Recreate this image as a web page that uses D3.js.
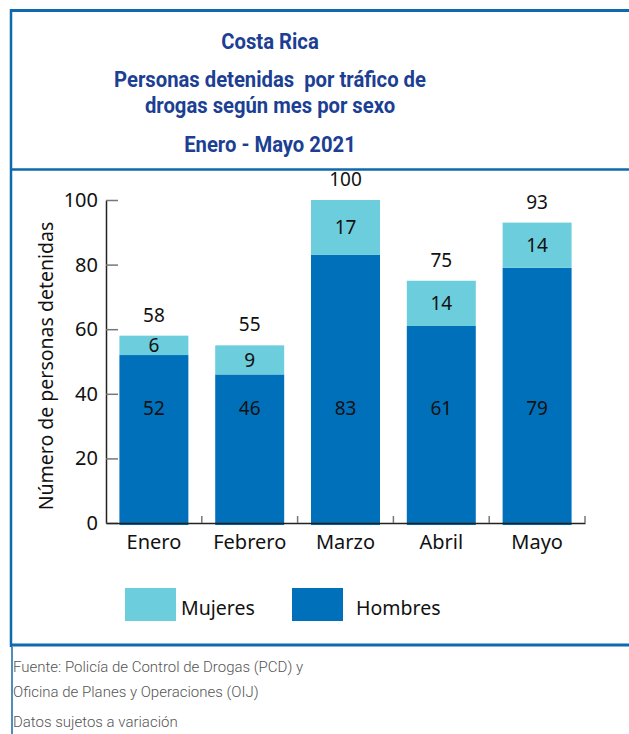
<!DOCTYPE html>
<html>
<head>
<meta charset="utf-8">
<script src="https://cdn.jsdelivr.net/npm/d3@7"></script>
<style>
  body { margin: 0; background: #fff; }
  svg { display: block; }
  text { white-space: pre; }
  .tick text { font-family: "Noto Sans", sans-serif; }
</style>
</head>
<body>
<div id="chart"></div>
<script>
var months = ["Enero", "Febrero", "Marzo", "Abril", "Mayo"];
var hombres = [52, 46, 83, 61, 79];
var mujeres = [6, 9, 17, 14, 14];
var totals = [58, 55, 100, 75, 93];
var yTicks = [0, 20, 40, 60, 80, 100];
var titleLines = ["Costa Rica", "Personas detenidas  por tráfico de", "drogas según mes por sexo", "Enero - Mayo 2021"];
var notes = ["Fuente: Policía de Control de Drogas (PCD) y", "Oficina de Planes y Operaciones (OIJ)", "Datos sujetos a variación"];

function init() {
    var w = 629, h = 734;
    var blue = "#0f69ad";
    var colMuj = "#6ccddc", colHom = "#0070bb";

    var svg = d3.select("#chart").append("svg").attr("width", w).attr("height", h);

    // frame lines
    svg.append("line").attr("x1", 10).attr("x2", w).attr("y1", 10.5).attr("y2", 10.5)
        .attr("stroke", blue).attr("stroke-width", 3);
    svg.append("line").attr("x1", 11).attr("x2", 11).attr("y1", 9).attr("y2", 647)
        .attr("stroke", blue).attr("stroke-width", 2.5);
    svg.append("line").attr("x1", 10).attr("x2", w).attr("y1", 169.5).attr("y2", 169.5)
        .attr("stroke", blue).attr("stroke-width", 2.5);
    svg.append("line").attr("x1", 10).attr("x2", w).attr("y1", 645).attr("y2", 645)
        .attr("stroke", blue).attr("stroke-width", 3);
    svg.append("line").attr("x1", 12).attr("x2", 12).attr("y1", 647).attr("y2", h)
        .attr("stroke", blue).attr("stroke-width", 1.5);

    // title (slightly condensed)
    var titleY = [49, 87, 113, 152];
    svg.append("g").attr("transform", "translate(270,0) scale(0.9,1)")
        .selectAll("text").data(titleLines).enter().append("text")
        .attr("x", 0).attr("y", (d, i) => titleY[i])
        .attr("text-anchor", "middle")
        .attr("font-family", "Roboto, sans-serif").attr("font-weight", 700)
        .attr("font-size", 22.5).attr("fill", "#1c3f94")
        .text(d => d);

    // scales
    var x = d3.scaleBand().domain(months).range([106, 585]).paddingInner(0.28).paddingOuter(0.14);
    var y = d3.scaleLinear().domain([0, 100]).range([523, 200]);

    var table = months.map((m, i) => ({ month: m, Hombres: hombres[i], Mujeres: mujeres[i] }));
    var stack = d3.stack().keys(["Hombres", "Mujeres"])(table);
    var color = { Hombres: colHom, Mujeres: colMuj };

    svg.append("g").selectAll("g").data(stack).enter().append("g")
        .attr("fill", d => color[d.key])
        .selectAll("rect").data(d => d).enter().append("rect")
        .attr("x", d => x(d.data.month))
        .attr("y", d => y(d[1]))
        .attr("width", x.bandwidth())
        .attr("height", d => y(d[0]) - y(d[1]) + (d[0] === 0 ? 2 : 0));

    // y axis
    var yAxis = d3.axisLeft(y).tickValues(yTicks).tickSize(0).tickPadding(8);
    var gy = svg.append("g").attr("transform", "translate(106,0)").call(yAxis);
    gy.select(".domain").attr("stroke", "#222").attr("stroke-width", 1.5);
    gy.selectAll(".tick text").attr("font-size", 20).attr("fill", "#111");
    gy.selectAll(".tick").append("line").attr("x1", 0).attr("x2", 12)
        .attr("stroke", "#777").attr("stroke-width", 1.5);

    // x axis
    var xAxis = d3.axisBottom(x).tickSize(0).tickPadding(12);
    var gx = svg.append("g").attr("transform", "translate(0,523)").call(xAxis);
    gx.select(".domain").attr("stroke", "#222").attr("stroke-width", 1.5);
    gx.selectAll(".tick text").attr("font-size", 20).attr("fill", "#111");
    var step = x.step();
    gx.append("g").selectAll("line").data(months).enter().append("line")
        .attr("x1", d => x(d) - x.paddingOuter() * step + step)
        .attr("x2", d => x(d) - x.paddingOuter() * step + step)
        .attr("y1", 0).attr("y2", -7)
        .attr("stroke", "#777").attr("stroke-width", 1.5);

    // y axis title
    svg.append("text")
        .attr("transform", "translate(53,366) rotate(-90)")
        .attr("text-anchor", "middle")
        .attr("font-family", "'Noto Sans', sans-serif").attr("font-size", 19.5).attr("fill", "#111")
        .text("Número de personas detenidas");

    var lblFont = "'Noto Sans', sans-serif";
    // hombres labels (fixed height)
    svg.append("g").selectAll("text").data(table).enter().append("text")
        .attr("x", d => x(d.month) + x.bandwidth() / 2)
        .attr("y", y(35.5) + 7)
        .attr("text-anchor", "middle").attr("font-family", lblFont).attr("font-size", 19).attr("fill", "#111")
        .text(d => d.Hombres);
    // mujeres labels (segment middle)
    svg.append("g").selectAll("text").data(table).enter().append("text")
        .attr("x", d => x(d.month) + x.bandwidth() / 2)
        .attr("y", d => y(d.Hombres + d.Mujeres / 2) + 7)
        .attr("text-anchor", "middle").attr("font-family", lblFont).attr("font-size", 19).attr("fill", "#111")
        .text(d => d.Mujeres);
    // totals
    svg.append("g").selectAll("text").data(months).enter().append("text")
        .attr("x", d => x(d) + x.bandwidth() / 2)
        .attr("y", (d, i) => y(totals[i]) - 14)
        .attr("text-anchor", "middle").attr("font-family", lblFont).attr("font-size", 19).attr("fill", "#111")
        .text((d, i) => totals[i]);

    // legend
    var legend = [{ key: "Mujeres", sx: 125, tx: 181 }, { key: "Hombres", sx: 292, tx: 356 }];
    var lg = svg.append("g").selectAll("g").data(legend).enter().append("g");
    lg.append("rect").attr("x", d => d.sx).attr("y", 588).attr("width", 51).attr("height", 33)
        .attr("fill", d => color[d.key]);
    lg.append("text").attr("x", d => d.tx).attr("y", 615)
        .attr("font-family", lblFont).attr("font-size", 19.5).attr("fill", "#111")
        .text(d => d.key);

    // notes
    var noteY = [672, 697, 727];
    svg.append("g").selectAll("text").data(notes).enter().append("text")
        .attr("x", 13).attr("y", (d, i) => noteY[i])
        .attr("font-family", "Roboto, sans-serif").attr("font-weight", 300)
        .attr("font-size", 15).attr("fill", "#555")
        .text(d => d);
}
window.onload = init;
</script>
</body>
</html>
